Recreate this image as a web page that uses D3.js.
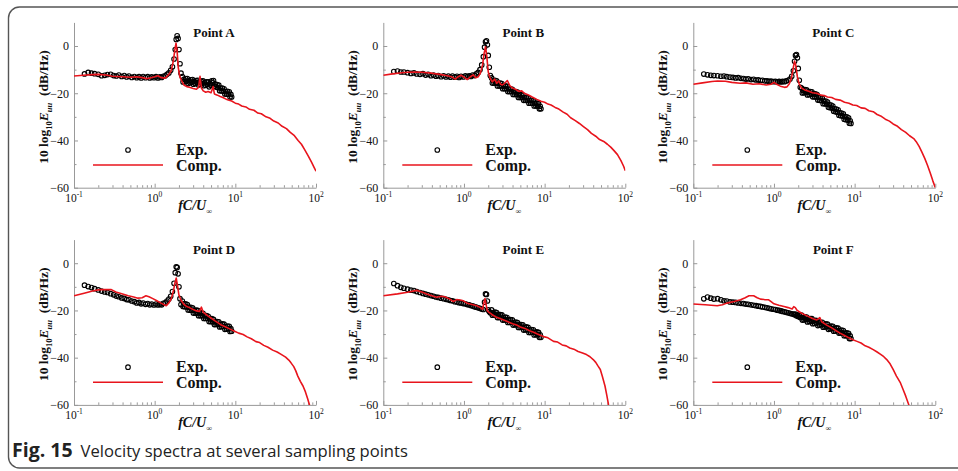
<!DOCTYPE html>
<html>
<head>
<meta charset="utf-8">
<script src="https://cdn.jsdelivr.net/npm/d3@7"></script>
<style>
  body { margin: 0; background: #fff; }
  svg { display: block; }
</style>
</head>
<body>
<script>
// measured frequencies of the experiment (fC/U)
const expFreq = [0.135, 0.15, 0.165, 0.18, 0.2, 0.22, 0.24, 0.26, 0.285, 0.31,
  0.335, 0.36, 0.39, 0.42, 0.45, 0.48, 0.52, 0.56, 0.6, 0.64,
  0.68, 0.72, 0.77, 0.82, 0.87, 0.92, 0.98, 1.04, 1.1, 1.16,
  1.22, 1.28, 1.35, 1.42, 1.5, 1.58, 1.66, 1.74,
  1.8, 1.85, 1.9, 1.95, 2.0, 2.06, 2.12,
  2.2, 2.25, 2.3, 2.36, 2.42, 2.48, 2.54, 2.6, 2.67, 2.74, 2.81, 2.88,
  2.95, 3.02, 3.1, 3.18, 3.26, 3.34, 3.42, 3.5, 3.59, 3.68, 3.77, 3.87,
  3.97, 4.07, 4.17, 4.28, 4.39, 4.5, 4.61, 4.73, 4.85, 4.97, 5.1, 5.23,
  5.36, 5.5, 5.64, 5.78, 5.93, 6.08, 6.23, 6.39, 6.55, 6.72, 6.89, 7.06,
  7.24, 7.42, 7.61, 7.8, 8.0, 8.2, 8.4, 8.6, 8.8, 9.0];

// experiment, dB/Hz, one per expFreq
const expA = [-11.8, -11.2, -11.5, -11.7, -12.0, -12.6, -12.4, -12.1, -12.0, -12.5,
  -12.7, -12.3, -12.9, -12.5, -13.1, -12.7, -13.3, -12.9, -13.4, -13.0,
  -13.5, -12.9, -13.4, -13.0, -13.5, -13.1, -13.4, -13.0, -13.5, -13.1,
  -13.3, -12.8, -12.6, -12.0, -11.4, -10.3, -8.8, -5.5,
  -1.5, 2.8, 4.3, 3.2, -1.5, -7.5, -11.5,
  -13.0, -15.2, -14.1, -15.1, -13.8, -14.9, -13.8, -15.9, -14.7, -15.6, -14.3, -15.3,
  -14.2, -16.2, -15.0, -15.9, -14.6, -15.6, -14.5, -16.5, -15.3, -16.2, -14.9, -15.9,
  -14.8, -16.8, -15.6, -16.6, -15.2, -16.3, -15.2, -17.3, -16.0, -16.6, -14.8, -15.6,
  -14.6, -17.0, -16.1, -17.4, -16.3, -17.6, -16.6, -18.9, -17.8, -19.0, -17.8, -19.1,
  -18.1, -20.3, -19.3, -20.4, -19.2, -20.4, -19.4, -21.6, -20.5, -21.6];
const expB = [-10.8, -10.6, -11.0, -11.0, -11.3, -11.6, -11.4, -11.8, -12.0, -11.7,
  -12.3, -12.0, -12.6, -12.3, -12.8, -12.5, -13.0, -12.6, -13.1, -12.7,
  -13.2, -12.7, -13.2, -12.8, -13.3, -12.8, -13.1, -12.6, -13.0, -12.6,
  -12.9, -12.3, -12.5, -11.8, -11.2, -10.0, -8.0, -4.5,
  -0.5, 1.8, 2.2, 0.5, -4.0, -9.0, -12.5,
  -13.5, -15.7, -14.6, -15.7, -14.5, -15.7, -14.7, -16.9, -15.8, -16.9, -15.7, -16.9,
  -15.9, -18.1, -17.0, -18.1, -16.9, -18.1, -17.1, -19.3, -18.2, -19.3, -18.1, -19.3,
  -18.3, -20.5, -19.4, -20.5, -19.3, -20.5, -19.5, -21.8, -20.7, -21.8, -20.6, -21.8,
  -20.8, -23.0, -21.9, -23.0, -21.8, -23.0, -22.0, -24.2, -23.1, -24.2, -23.0, -24.2,
  -23.2, -25.4, -24.3, -25.4, -24.2, -25.4, -24.4, -26.6, -25.5, -26.6];
const expC = [-11.9, -12.2, -12.4, -12.5, -12.6, -12.8, -12.7, -13.0, -13.2, -13.3,
  -13.5, -13.4, -13.7, -13.8, -14.0, -13.9, -14.2, -14.1, -14.4, -14.3,
  -14.6, -14.5, -14.8, -14.7, -15.0, -14.9, -15.1, -15.0, -15.2, -15.0,
  -15.2, -15.0, -15.1, -14.8, -14.5, -14.0, -12.8, -10.5,
  -6.5, -4.0, -3.6, -5.0, -9.5, -14.5, -17.5,
  -17.8, -19.9, -18.8, -19.8, -18.5, -19.7, -18.6, -20.7, -19.5, -20.6, -19.3, -20.4,
  -19.4, -21.5, -20.3, -21.5, -20.3, -21.6, -20.6, -22.9, -21.8, -23.0, -21.8, -23.1,
  -22.1, -24.4, -23.3, -24.5, -23.3, -24.6, -23.7, -25.9, -24.9, -26.1, -25.0, -26.3,
  -25.4, -27.6, -26.6, -27.8, -26.7, -28.0, -27.0, -29.3, -28.3, -29.5, -28.4, -29.6,
  -28.7, -31.0, -30.0, -31.2, -30.0, -31.3, -30.4, -32.7, -31.7, -32.8];
const expD = [-9.3, -9.9, -10.3, -10.8, -11.3, -11.8, -12.2, -12.4, -12.9, -13.4,
  -13.9, -14.2, -14.7, -14.9, -15.4, -15.5, -16.0, -16.3, -16.8, -16.6,
  -17.2, -16.9, -17.4, -17.1, -17.6, -17.3, -17.7, -17.3, -17.7, -17.4,
  -17.6, -17.0, -16.8, -16.0, -15.2, -14.0, -12.0, -8.5,
  -4.0, -1.5, -1.8, -4.5, -10.0, -15.0, -17.5,
  -16.0, -18.3, -17.2, -18.4, -17.2, -18.5, -17.5, -19.8, -18.7, -19.9, -18.7, -19.9,
  -18.9, -21.1, -20.0, -21.1, -19.9, -21.1, -20.0, -22.2, -21.1, -22.2, -21.0, -22.2,
  -21.2, -23.4, -22.3, -23.4, -22.2, -23.4, -22.5, -24.7, -23.6, -24.7, -23.5, -24.8,
  -23.8, -26.0, -24.9, -25.9, -24.7, -25.9, -24.8, -27.0, -25.9, -26.9, -25.7, -26.8,
  -25.8, -28.0, -26.8, -27.9, -26.6, -27.8, -26.7, -28.9, -27.7, -28.8];
const expE = [-8.6, -9.5, -10.2, -10.6, -11.0, -11.4, -11.6, -12.0, -12.4, -12.8,
  -13.1, -13.4, -13.7, -14.0, -14.3, -14.5, -14.8, -15.0, -15.3, -15.5,
  -15.8, -15.9, -16.3, -16.4, -16.7, -16.8, -17.1, -17.2, -17.5, -17.6,
  -17.9, -18.1, -18.4, -18.6, -18.9, -19.1, -19.4, -19.6,
  -16.5, -13.0, -13.2, -16.0, -19.8, -20.5, -21.0,
  -19.8, -22.0, -20.9, -21.9, -20.7, -21.9, -20.9, -23.0, -21.9, -23.0, -21.8, -22.9,
  -21.9, -24.1, -23.0, -24.0, -22.8, -24.0, -23.0, -25.1, -24.0, -25.1, -23.9, -25.0,
  -24.0, -26.2, -25.1, -26.1, -24.9, -26.1, -25.1, -27.2, -26.1, -27.2, -26.0, -27.1,
  -26.1, -28.3, -27.2, -28.2, -27.0, -28.2, -27.2, -29.3, -28.2, -29.3, -28.1, -29.2,
  -28.2, -30.4, -29.3, -30.3, -29.1, -30.3, -29.3, -31.4, -30.3, -31.4];
const expF = [-15.1, -14.3, -14.8, -15.2, -15.0, -15.5, -15.9, -16.0, -16.4, -16.5,
  -16.6, -16.8, -17.0, -17.1, -17.3, -17.4, -17.6, -17.8, -18.0, -18.2,
  -18.3, -18.5, -18.7, -18.9, -19.1, -19.3, -19.5, -19.6, -19.9, -20.0,
  -20.2, -20.4, -20.6, -20.8, -21.0, -21.2, -21.4, -21.6,
  -21.8, -21.5, -22.3, -21.9, -22.6, -22.1, -23.0,
  -22.0, -24.1, -23.0, -24.0, -22.7, -23.8, -22.8, -24.9, -23.7, -24.7, -23.5, -24.6,
  -23.5, -25.6, -24.5, -25.5, -24.2, -25.3, -24.3, -26.4, -25.2, -26.2, -25.0, -26.1,
  -25.0, -27.1, -26.0, -27.0, -25.7, -26.9, -25.8, -28.0, -26.8, -27.8, -26.6, -27.7,
  -26.7, -28.8, -27.6, -28.7, -27.4, -28.6, -27.5, -29.6, -28.5, -29.5, -28.3, -29.5,
  -28.5, -30.7, -29.6, -30.7, -29.5, -30.7, -29.7, -31.9, -30.8, -31.9];

// computation, [fC/U, dB/Hz]
const compA = [[0.1, -12.7], [0.13, -12.4], [0.17, -12.1], [0.2, -12.0], [0.25, -12.3], [0.3, -12.8],
  [0.4, -13.0], [0.5, -13.2], [0.6, -13.0], [0.7, -13.4], [0.8, -13.8], [0.9, -13.4], [1.0, -13.0],
  [1.1, -12.6], [1.2, -13.4], [1.35, -13.6], [1.5, -12.0], [1.6, -10.5], [1.7, -6.5], [1.78, -1.5],
  [1.84, 1.2], [1.9, -2.5], [1.96, -9.0], [2.05, -13.0], [2.15, -14.5], [2.3, -16.5], [2.5, -17.2],
  [2.7, -17.5], [3.0, -18.0], [3.3, -18.3], [3.5, -17.5], [3.65, -12.8], [3.8, -17.8], [4.0, -19.0],
  [4.3, -19.6], [4.6, -19.3], [5.0, -19.8], [5.3, -17.2], [5.5, -20.3], [6.0, -20.8], [6.5, -21.4],
  [7.0, -21.8], [8.0, -22.8], [9.0, -23.3], [10, -24.2], [11, -24.6], [12, -25.4], [13.5, -25.8],
  [15, -26.8], [17, -27.2], [19, -28.4], [21, -28.7], [24, -30.0], [27, -30.6], [30, -31.8],
  [34, -32.6], [38, -34.0], [43, -35.0], [48, -36.6], [54, -38.0], [60, -40.0], [66, -41.6],
  [72, -43.8], [80, -46.5], [88, -49.2], [95, -51.5], [100, -53.0]];
const compB = [[0.1, -12.4], [0.13, -11.8], [0.17, -11.3], [0.2, -11.1], [0.25, -11.0], [0.3, -11.1],
  [0.4, -11.5], [0.5, -12.0], [0.6, -12.5], [0.7, -13.0], [0.78, -14.0], [0.85, -13.0], [0.92, -12.4],
  [1.0, -13.2], [1.1, -14.2], [1.2, -13.0], [1.3, -12.2], [1.4, -13.4], [1.5, -13.0], [1.6, -11.5],
  [1.7, -8.0], [1.78, -3.0], [1.85, -0.3], [1.92, -4.5], [2.0, -11.0], [2.1, -13.5], [2.25, -15.2],
  [2.4, -14.0], [2.55, -15.8], [2.7, -14.8], [2.85, -16.2], [3.0, -16.5], [3.2, -15.8], [3.45, -14.6],
  [3.7, -16.8], [4.0, -17.8], [4.4, -18.4], [4.8, -19.2], [5.2, -19.0], [5.6, -20.0], [6.2, -20.6],
  [7.0, -21.6], [8.0, -22.6], [9.0, -23.4], [10, -23.8], [11, -24.6], [12, -25.0], [13.5, -26.0],
  [15, -26.7], [17, -28.0], [19, -28.9], [21, -30.4], [24, -31.6], [27, -32.8], [30, -34.0],
  [34, -35.4], [38, -37.0], [43, -38.2], [48, -39.6], [54, -40.4], [60, -41.6], [66, -42.8],
  [72, -44.2], [80, -46.0], [88, -48.4], [95, -50.8], [100, -52.8]];
const compC = [[0.1, -16.2], [0.13, -15.6], [0.17, -15.0], [0.2, -14.8], [0.25, -14.9], [0.3, -15.4],
  [0.38, -15.8], [0.45, -15.6], [0.55, -16.2], [0.65, -16.0], [0.8, -16.5], [0.92, -16.2], [1.0, -15.4],
  [1.08, -16.2], [1.2, -17.0], [1.35, -17.5], [1.45, -17.3], [1.55, -16.0], [1.65, -13.5], [1.73, -9.5],
  [1.8, -6.4], [1.86, -8.0], [1.95, -13.0], [2.05, -16.0], [2.2, -17.8], [2.4, -18.6], [2.7, -19.2],
  [3.0, -19.8], [3.4, -20.0], [3.8, -20.8], [4.2, -21.0], [4.6, -21.6], [5.2, -21.8], [5.8, -22.6],
  [6.6, -22.9], [7.5, -23.8], [8.5, -24.2], [9.5, -25.0], [10.6, -25.2], [12, -26.2], [13.5, -26.4],
  [15, -27.4], [17, -27.8], [19, -29.0], [21, -29.6], [24, -31.0], [27, -31.8], [30, -33.0],
  [34, -34.0], [38, -35.4], [43, -36.6], [48, -38.0], [54, -39.2], [58, -40.5], [63, -42.5],
  [68, -44.8], [74, -47.6], [80, -50.5], [87, -54.0], [93, -57.0], [100, -60.0]];
const compD = [[0.1, -13.8], [0.13, -12.8], [0.17, -11.8], [0.2, -11.3], [0.22, -11.2], [0.29, -11.2],
  [0.33, -12.2], [0.4, -13.0], [0.47, -13.8], [0.55, -14.3], [0.62, -14.8], [0.7, -14.6], [0.78, -13.8],
  [0.85, -14.2], [0.95, -15.0], [1.05, -15.8], [1.2, -16.9], [1.39, -18.0], [1.5, -16.8], [1.6, -15.2],
  [1.7, -12.0], [1.78, -8.5], [1.85, -6.3], [1.92, -9.5], [2.0, -13.5], [2.13, -15.8], [2.3, -17.4],
  [2.46, -18.2], [2.7, -18.8], [2.96, -19.5], [3.3, -20.2], [3.6, -20.4], [3.8, -18.6], [4.0, -20.8],
  [4.3, -21.6], [4.6, -22.4], [5.0, -23.2], [5.6, -24.4], [6.2, -25.4], [6.7, -26.2], [7.5, -26.9],
  [8.5, -27.8], [9.8, -28.8], [11, -29.6], [12.5, -30.2], [14, -31.2], [15.8, -32.0], [18, -33.2],
  [20, -33.6], [22.5, -34.8], [25.4, -35.6], [29, -36.8], [33, -37.6], [37, -38.6], [42, -39.8],
  [46, -41.0], [49, -42.2], [53, -43.8], [56, -45.5], [59.5, -47.8], [64, -50.0], [69, -52.0],
  [74, -54.5], [79, -57.5], [83, -60.0], [88, -63.0]];
const compE = [[0.1, -13.8], [0.15, -13.0], [0.2, -12.3], [0.26, -11.5], [0.3, -12.2], [0.345, -13.0],
  [0.4, -13.8], [0.46, -14.4], [0.52, -14.0], [0.58, -14.2], [0.65, -15.0], [0.74, -16.2], [0.81, -15.4],
  [0.9, -15.6], [0.98, -15.9], [1.08, -16.8], [1.19, -17.3], [1.3, -17.6], [1.44, -18.0], [1.6, -18.8],
  [1.7, -19.5], [1.76, -17.0], [1.82, -15.0], [1.88, -17.5], [1.95, -20.2], [2.05, -20.8], [2.2, -21.6],
  [2.5, -22.8], [2.9, -23.6], [3.4, -24.6], [4.0, -25.6], [4.5, -26.2], [5.0, -27.0], [5.7, -27.6],
  [6.5, -28.6], [7.3, -29.2], [8.0, -29.9], [9.0, -30.6], [10, -31.2], [11, -31.6], [12.9, -33.1],
  [14.5, -33.4], [16.5, -34.6], [18.5, -35.0], [20.5, -35.9], [23, -36.4], [26, -37.4], [29.5, -38.0],
  [33, -38.7], [36.5, -39.6], [40, -40.8], [43, -42.0], [46, -43.6], [49, -45.0], [52, -48.0],
  [56, -52.0], [59, -56.0], [62, -60.0], [65, -63.0]];
const compF = [[0.1, -17.3], [0.14, -17.6], [0.198, -18.0], [0.23, -17.6], [0.26, -16.9], [0.32, -16.2],
  [0.385, -15.5], [0.44, -14.6], [0.49, -13.8], [0.56, -13.8], [0.62, -14.6], [0.68, -15.2], [0.76, -15.4],
  [0.86, -15.5], [0.93, -16.4], [1.0, -17.2], [1.15, -17.8], [1.33, -18.3], [1.5, -18.8], [1.68, -19.4],
  [1.76, -18.4], [1.84, -18.8], [1.94, -20.0], [2.2, -21.2], [2.58, -22.3], [3.0, -23.4], [3.4, -24.0],
  [3.7, -23.0], [3.9, -24.8], [4.5, -26.2], [5.2, -27.4], [5.9, -28.6], [6.6, -29.6], [7.5, -30.6],
  [8.5, -31.6], [9.5, -32.4], [10.7, -33.1], [12, -33.8], [13.5, -35.0], [15, -35.6], [17, -36.6],
  [19, -37.6], [21, -38.6], [23, -39.6], [25, -40.8], [27.5, -42.6], [30, -45.0], [33, -47.8],
  [37, -50.7], [40, -53.6], [43, -56.3], [47, -60.0], [50, -63.0]];

const titles = ['Point A', 'Point B', 'Point C', 'Point D', 'Point E', 'Point F'];
const xTicks = [0.1, 1, 10, 100];
const xTickPow = ['-1', '0', '1', '2'];
const xMinor = [0.2, 0.3, 0.4, 0.5, 0.6, 0.7, 0.8, 0.9, 2, 3, 4, 5, 6, 7, 8, 9, 20, 30, 40, 50, 60, 70, 80, 90];
const yTicks = [-60, -40, -20, 0];
const yMinor = [-50, -30, -10];

const panels = [
  { title: titles[0], exp: expA, comp: compA },
  { title: titles[1], exp: expB, comp: compB },
  { title: titles[2], exp: expC, comp: compC },
  { title: titles[3], exp: expD, comp: compD },
  { title: titles[4], exp: expE, comp: compE },
  { title: titles[5], exp: expF, comp: compF }
];

// layout
const colLeft = [74, 383.3, 693.3];
const rowTop = [22.4, 239.6];
const plotW = 242, plotH = 165.3;
const serif = '"Liberation Serif", "Times New Roman", serif';
const red = '#e8141c';
const axisGray = '#999';

const svg = d3.select('body').append('svg')
    .attr('width', 958).attr('height', 471);

svg.append('rect').attr('width', 958).attr('height', 471).attr('fill', '#fff');
// figure frame
svg.append('rect')
    .attr('x', 8.5).attr('y', 7).attr('width', 990).attr('height', 461)
    .attr('rx', 11).attr('fill', 'none')
    .attr('stroke', '#555').attr('stroke-width', 1.4);

svg.append('defs').append('clipPath').attr('id', 'plotclip')
    .append('rect').attr('x', 0).attr('y', 0).attr('width', plotW).attr('height', plotH);

const x = d3.scaleLog().domain([0.1, 100]).range([0, plotW]);
const y = d3.scaleLinear().domain([-60, 10]).range([plotH, 0]);

const line = d3.line().x(d => x(d[0])).y(d => y(d[1]));

panels.forEach((p, i) => {
    const g = svg.append('g')
        .attr('transform', `translate(${colLeft[i % 3]},${rowTop[Math.floor(i / 3)]})`);

    // axes, ticks pointing inward
    g.append('g').attr('transform', `translate(0,${plotH})`)
        .call(d3.axisBottom(x).tickValues(xTicks).tickSize(-4).tickSizeOuter(0).tickFormat(() => ''));
    g.append('g').attr('transform', `translate(0,${plotH})`)
        .call(d3.axisBottom(x).tickValues(xMinor).tickSize(-2.5).tickSizeOuter(0).tickFormat(() => ''))
        .select('.domain').remove();
    const yAxis = g.append('g')
        .call(d3.axisLeft(y).tickValues(yTicks).tickSize(-4).tickSizeOuter(0).tickPadding(5));
    g.append('g')
        .call(d3.axisLeft(y).tickValues(yMinor).tickSize(-2.5).tickSizeOuter(0).tickFormat(() => ''))
        .select('.domain').remove();
    g.selectAll('.domain, .tick line').attr('stroke', axisGray).attr('stroke-width', 1);
    yAxis.selectAll('text')
        .attr('font-family', serif).attr('font-size', 12).attr('fill', '#111');

    // x tick labels 10^n
    const xl = g.append('g').attr('font-family', serif).attr('fill', '#111');
    xTicks.forEach((t, k) => {
        const tx = xl.append('text')
            .attr('x', x(t)).attr('y', plotH + 14.3)
            .attr('text-anchor', 'middle').attr('font-size', 11.5);
        tx.append('tspan').text('10');
        tx.append('tspan').attr('dy', -5).attr('font-size', 7.5).text(xTickPow[k]);
    });

    // axis titles
    const xt = g.append('text')
        .attr('x', plotW / 2).attr('y', plotH + 22.3)
        .attr('text-anchor', 'middle')
        .attr('font-family', serif).attr('font-weight', 'bold').attr('font-style', 'italic')
        .attr('font-size', 14).attr('fill', '#111');
    xt.append('tspan').text('fC/U');
    xt.append('tspan').attr('dy', 4).attr('font-size', 8).text('\u221e');

    const yt = g.append('text')
        .attr('transform', `translate(-26.5,${plotH / 2 + 2}) rotate(-90)`)
        .attr('text-anchor', 'middle')
        .attr('font-family', serif).attr('font-weight', 'bold')
        .attr('font-size', 13.5).attr('fill', '#111');
    yt.append('tspan').text('10 log');
    yt.append('tspan').attr('dy', 4).attr('font-size', 8.5).text('10');
    yt.append('tspan').attr('dy', -4).attr('font-style', 'italic').text('E');
    yt.append('tspan').attr('dy', 4).attr('font-size', 8.5).attr('font-style', 'italic').text('uu');
    yt.append('tspan').attr('dy', -4).text('\u2002(dB/Hz)');

    // title
    g.append('text')
        .attr('x', 140).attr('y', 14.9).attr('text-anchor', 'middle')
        .attr('font-family', serif).attr('font-weight', 'bold')
        .attr('font-size', 13).attr('fill', '#111')
        .text(p.title);

    // experiment circles
    const n = Math.min(expFreq.length, p.exp.length);
    g.append('g').selectAll('circle')
        .data(d3.range(n).map(k => [expFreq[k], p.exp[k]]))
        .join('circle')
        .attr('cx', d => x(d[0])).attr('cy', d => y(d[1]))
        .attr('r', 2.3).attr('fill', 'none')
        .attr('stroke', '#000').attr('stroke-width', 1.1);

    // computation line
    g.append('path')
        .attr('clip-path', 'url(#plotclip)')
        .attr('d', line(p.comp))
        .attr('fill', 'none').attr('stroke', red).attr('stroke-width', 1.6)
        .attr('stroke-linejoin', 'round');

    // legend
    const lg = g.append('g').attr('font-family', serif).attr('font-weight', 'bold')
        .attr('font-size', 16).attr('fill', '#111');
    lg.append('circle').attr('cx', 54).attr('cy', 127.6).attr('r', 2.3)
        .attr('fill', 'none').attr('stroke', '#000').attr('stroke-width', 1.1);
    lg.append('line').attr('x1', 19).attr('x2', 89).attr('y1', 142.6).attr('y2', 142.6)
        .attr('stroke', red).attr('stroke-width', 1.4);
    lg.append('text').attr('x', 102).attr('y', 132.6).text('Exp.');
    lg.append('text').attr('x', 102).attr('y', 148.3).text('Comp.');
});

// caption
const cap = svg.append('text')
    .attr('x', 12).attr('y', 457)
    .attr('font-family', '"Open Sans", "Noto Sans", sans-serif')
    .attr('fill', '#222');
cap.append('tspan').attr('font-weight', 'bold').attr('font-size', 19.5).text('Fig. 15');
cap.append('tspan').attr('dx', 8).attr('font-size', 16.6).text('Velocity spectra at several sampling points');
</script>
</body>
</html>
